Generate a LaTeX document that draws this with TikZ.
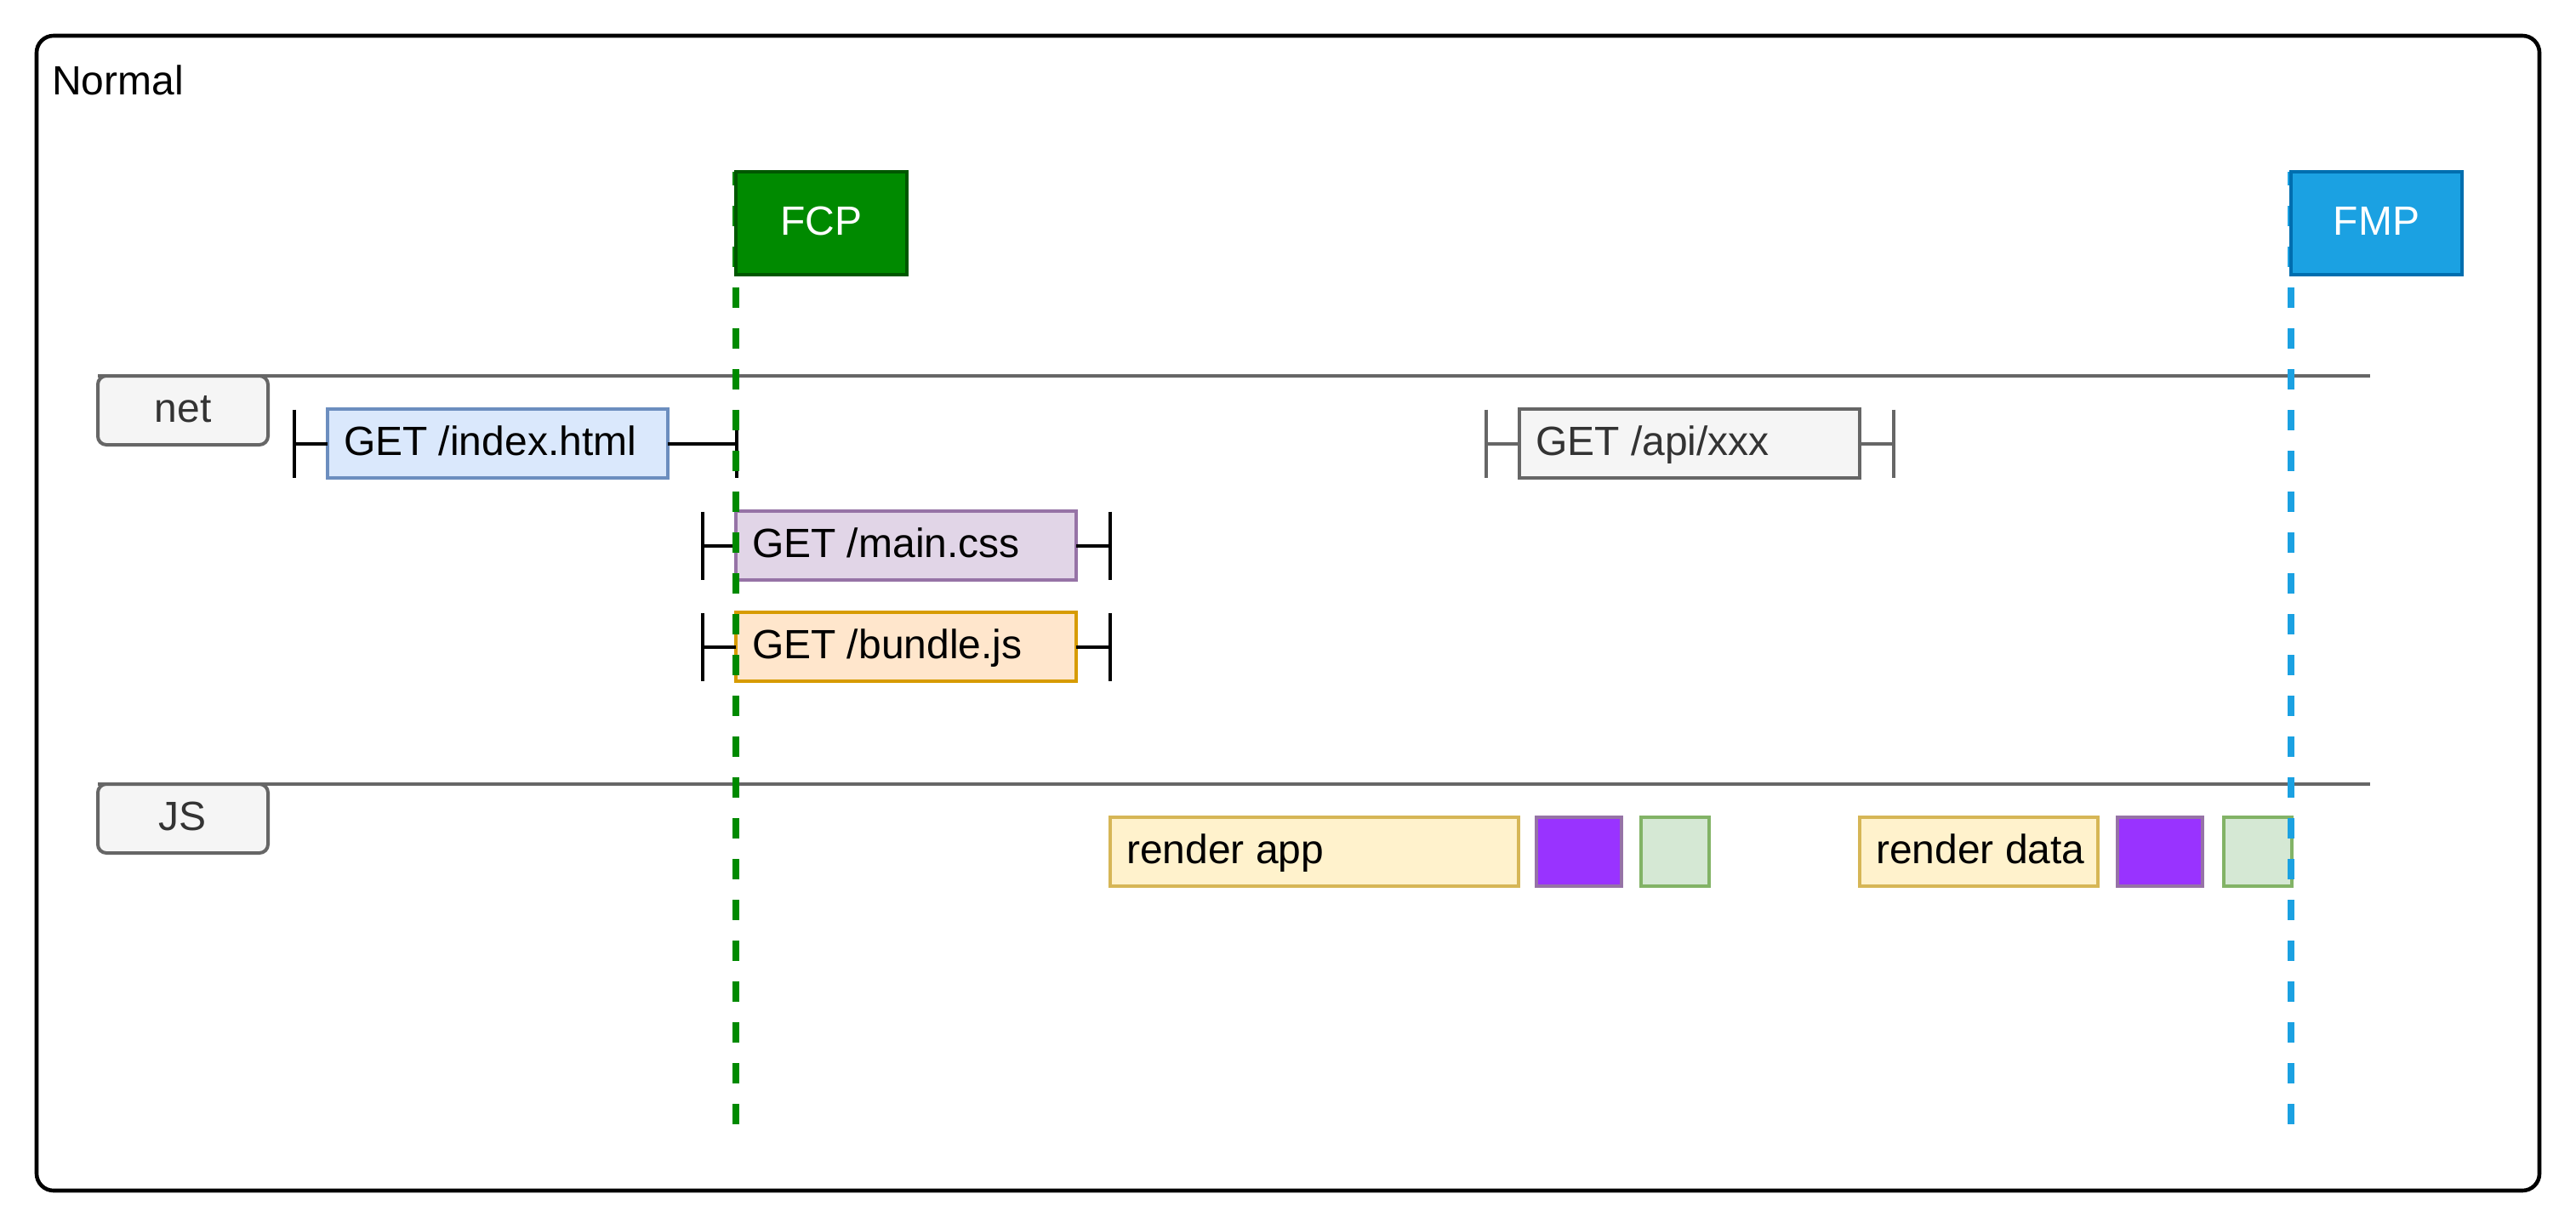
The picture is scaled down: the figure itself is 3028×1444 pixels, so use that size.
\documentclass[tikz,border=0pt]{standalone}
\usepackage{fontspec}
\setmainfont{Liberation Sans}
\definecolor{fcpfill}{HTML}{008A00}
\definecolor{fcpdraw}{HTML}{005700}
\definecolor{fmpfill}{HTML}{1BA1E2}
\definecolor{fmpdraw}{HTML}{006EAF}
\definecolor{greyfill}{HTML}{F5F5F5}
\definecolor{greydraw}{HTML}{666666}
\definecolor{greytext}{HTML}{333333}
\definecolor{bluefill}{HTML}{DAE8FC}
\definecolor{bluedraw}{HTML}{6C8EBF}
\definecolor{purfill}{HTML}{E1D5E7}
\definecolor{purdraw}{HTML}{9673A6}
\definecolor{orfill}{HTML}{FFE6CC}
\definecolor{ordraw}{HTML}{D79B00}
\definecolor{yelfill}{HTML}{FFF2CC}
\definecolor{yeldraw}{HTML}{D6B656}
\definecolor{viofill}{HTML}{9933FF}
\definecolor{grnfill}{HTML}{D5E8D4}
\definecolor{grndraw}{HTML}{82B366}
\begin{document}
\begin{tikzpicture}[x=0.5pt,y=-0.5pt,
  every node/.style={font=\fontsize{24pt}{29pt}\selectfont, inner sep=0pt,
    outer sep=0pt, text height=17.2pt, text depth=3pt},
  box/.style={draw, line width=2pt, anchor=north west, minimum height=40.5pt},
  req/.style={box, align=flush left, inner xsep=9.5pt, text width=#1},
  lane/.style={box, rounded corners=5pt, fill=greyfill, draw=greydraw,
    text=greytext, minimum width=100pt},
  laneline/.style={draw=greydraw, line width=2pt},
  bar/.style={line width=2pt},
  flagbox/.style={box, minimum width=100.5pt, minimum height=60.5pt, text=white},
  milestone/.style={line width=4pt, dash pattern=on 12pt off 12pt, dash phase=4pt},
  block/.style={box, minimum width=#1},
]
\useasboundingbox (0,0) rectangle (3028,1444);
% frame
\draw[line width=2.3pt, rounded corners=10pt, fill=white] (43,42) rectangle (2985,1400);
\node[anchor=base west] (title) at (61,112) {Normal};

% lanes
\node[lane] (net) at (115,442) {net};
\node[lane] (js) at (115,922) {JS};
\coordinate (netEnd) at (2786,442);
\coordinate (jsEnd) at (2786,922);
\draw[laneline] (net.north west) -- (netEnd);
\draw[laneline] (js.north west) -- (jsEnd);

% requests
\node[req=181pt, fill=bluefill, draw=bluedraw] (idx) at (385,481) {GET /index.html};
\coordinate (idxL) at (346,521.5);
\coordinate (idxR) at (866,521.5);
\draw[bar] (idxL) -- (idx.west);
\draw[bar] (idx.east) -- (idxR);
\draw[bar] ([yshift=20pt]idxL) -- ([yshift=-20pt]idxL);
\draw[bar] ([yshift=20pt]idxR) -- ([yshift=-20pt]idxR);

\node[req=181pt, fill=greyfill, draw=greydraw, text=greytext] (api) at (1786,481) {GET /api/xxx};
\coordinate (apiL) at (1747,521.5);
\coordinate (apiR) at (2226,521.5);
\draw[bar, greydraw] (apiL) -- (api.west);
\draw[bar, greydraw] (api.east) -- (apiR);
\draw[bar, greydraw] ([yshift=20pt]apiL) -- ([yshift=-20pt]apiL);
\draw[bar, greydraw] ([yshift=20pt]apiR) -- ([yshift=-20pt]apiR);

\node[req=181pt, fill=purfill, draw=purdraw] (css) at (865,601) {GET /main.css};
\coordinate (cssL) at (826,641.5);
\coordinate (cssR) at (1305,641.5);
\draw[bar] (cssL) -- (css.west);
\draw[bar] (css.east) -- (cssR);
\draw[bar] ([yshift=20pt]cssL) -- ([yshift=-20pt]cssL);
\draw[bar] ([yshift=20pt]cssR) -- ([yshift=-20pt]cssR);

\node[req=181pt, fill=orfill, draw=ordraw] (bjs) at (865,720) {GET /bundle.js};
\coordinate (bjsL) at (826,760.5);
\coordinate (bjsR) at (1305,760.5);
\draw[bar] (bjsL) -- (bjs.west);
\draw[bar] (bjs.east) -- (bjsR);
\draw[bar] ([yshift=20pt]bjsL) -- ([yshift=-20pt]bjsL);
\draw[bar] ([yshift=20pt]bjsR) -- ([yshift=-20pt]bjsR);

% JS tasks
\node[req=221pt, fill=yelfill, draw=yeldraw] (rapp) at (1305,961) {render app};
\node[block=50pt, fill=viofill, draw=purdraw] (p1) at (1806,961) {};
\node[block=40pt, fill=grnfill, draw=grndraw] (g1) at (1929,961) {};
\node[req=121pt, fill=yelfill, draw=yeldraw] (rdata) at (2186,961) {\mbox{render data}};
\node[block=50pt, fill=viofill, draw=purdraw] (p2) at (2489,961) {};
\node[block=40pt, fill=grnfill, draw=grndraw] (g2) at (2614,961) {};

% milestones
\coordinate (fcpEnd) at (865,1322);
\coordinate (fmpEnd) at (2693,1322);
\coordinate (fcpTop) at (865,202);
\coordinate (fmpTop) at (2693,202);
\draw[milestone, fcpfill] (fcpTop) -- (fcpEnd);
\draw[milestone, fmpfill] (fmpTop) -- (fmpEnd);
\node[flagbox, fill=fcpfill, draw=fcpdraw] (fcp) at (fcpTop) {FCP};
\node[flagbox, fill=fmpfill, draw=fmpdraw] (fmp) at (fmpTop) {FMP};
\end{tikzpicture}
\end{document}
